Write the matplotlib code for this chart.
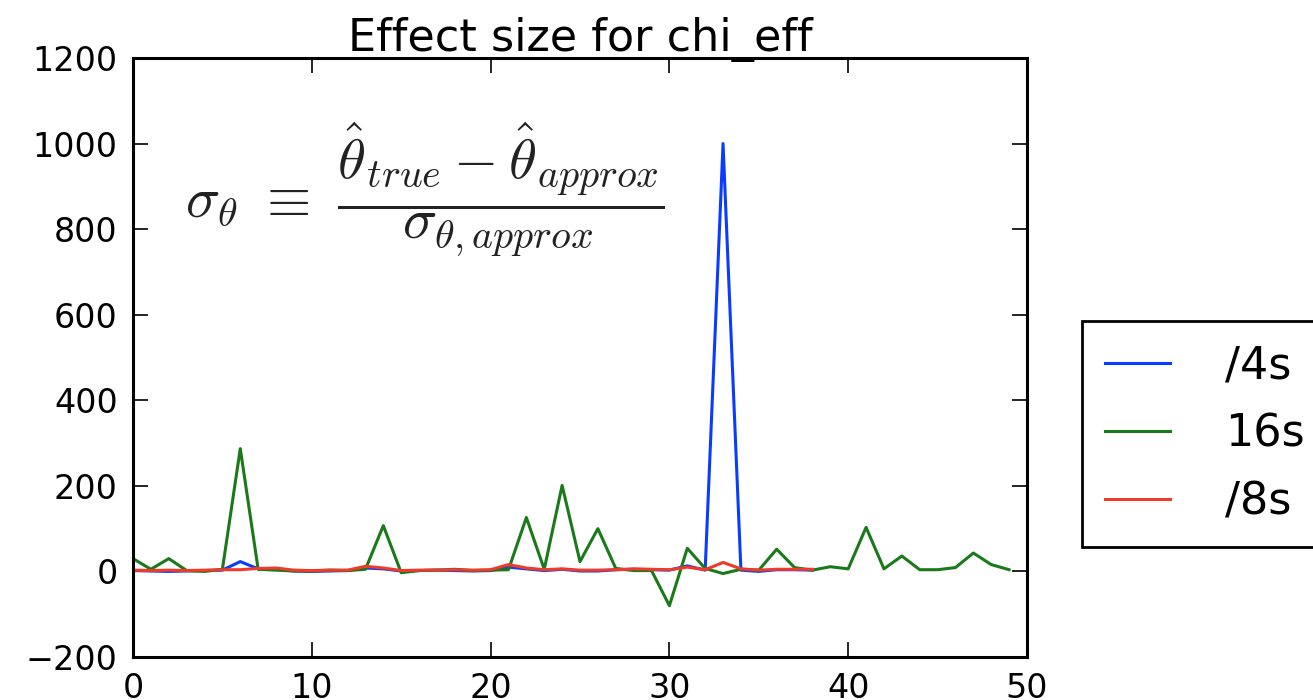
import matplotlib
matplotlib.use('Agg')
import matplotlib.pyplot as plt
import numpy as np

plt.rcParams['mathtext.fontset'] = 'cm'

# effect size per run
effect_4s = [2, 1, 0, 1, 2, 3, 23, 6, 5, 1, 0, 1, 2, 8, 6, 1, 2, 3, 2,
             1, 2, 10, 6, 2, 5, 1, 1, 4, 5, 4, 3, 13, 3, 1000, 3, 0, 4, 4, 3]
effect_16s = [30, 5, 30, 2, 0, 5, 287, 5, 3, 1, 1, 3, 2, 5, 107, -3, 2, 3, 5,
              2, 3, 4, 126, 5, 201, 23, 100, 7, 2, 2, -80, 54, 7, -5, 5,
              3, 52, 9, 3, 11, 6, 103, 6, 36, 4, 4, 9, 43, 16, 4]
effect_8s = [3, 2, 3, 2, 3, 4, 4, 7, 8, 3, 2, 3, 3, 12, 8, 2, 3, 3, 4,
             3, 4, 16, 8, 4, 6, 3, 3, 4, 6, 5, 4, 10, 4, 21, 6, 3, 5, 5, 5]

fig = plt.figure(figsize=(13.13, 7.0), dpi=100)
ax = fig.add_axes([133 / 1313, 43 / 700, 894 / 1313, 599 / 700])

ax.plot(np.arange(len(effect_4s)), effect_4s, color='#0a3cff', lw=2.2, label='/4s')
ax.plot(np.arange(len(effect_16s)), effect_16s, color='#1a7a1a', lw=2.2, label='16s')
ax.plot(np.arange(len(effect_8s)), effect_8s, color='#f03a2a', lw=2.2, label='/8s')

ax.set_xlim(0, 50)
ax.set_ylim(-200, 1200)
ax.set_xticks(np.arange(0, 51, 10))
ax.set_yticks(np.arange(-200, 1201, 200))
ax.set_yticklabels(['\u2212200', '0', '200', '400', '600', '800', '1000', '1200'])

ax.tick_params(direction='in', top=True, right=True, length=11, width=1.2,
               labelsize=24, pad=11)
for spine in ax.spines.values():
    spine.set_linewidth(2.2)

ax.set_title('Effect size for chi_eff', fontsize=32, pad=5)

ax.text(0.058, 0.78,
        r'$\sigma_\theta\ \equiv\ \dfrac{\hat{\theta}_{true}-\hat{\theta}_{approx}}{\sigma_{\theta,approx}}$',
        transform=ax.transAxes, fontsize=41, va='center', ha='left', color='#222222')

leg = ax.legend(loc='upper left', bbox_to_anchor=(1.0615, 0.561), borderaxespad=0,
                fontsize=32, handlelength=1.45, handletextpad=1.25, labelspacing=0.57,
                fancybox=False, framealpha=1, edgecolor='black', borderpad=0.52)
leg.get_frame().set_linewidth(2.0)

fig.savefig('out.png', dpi=100)
